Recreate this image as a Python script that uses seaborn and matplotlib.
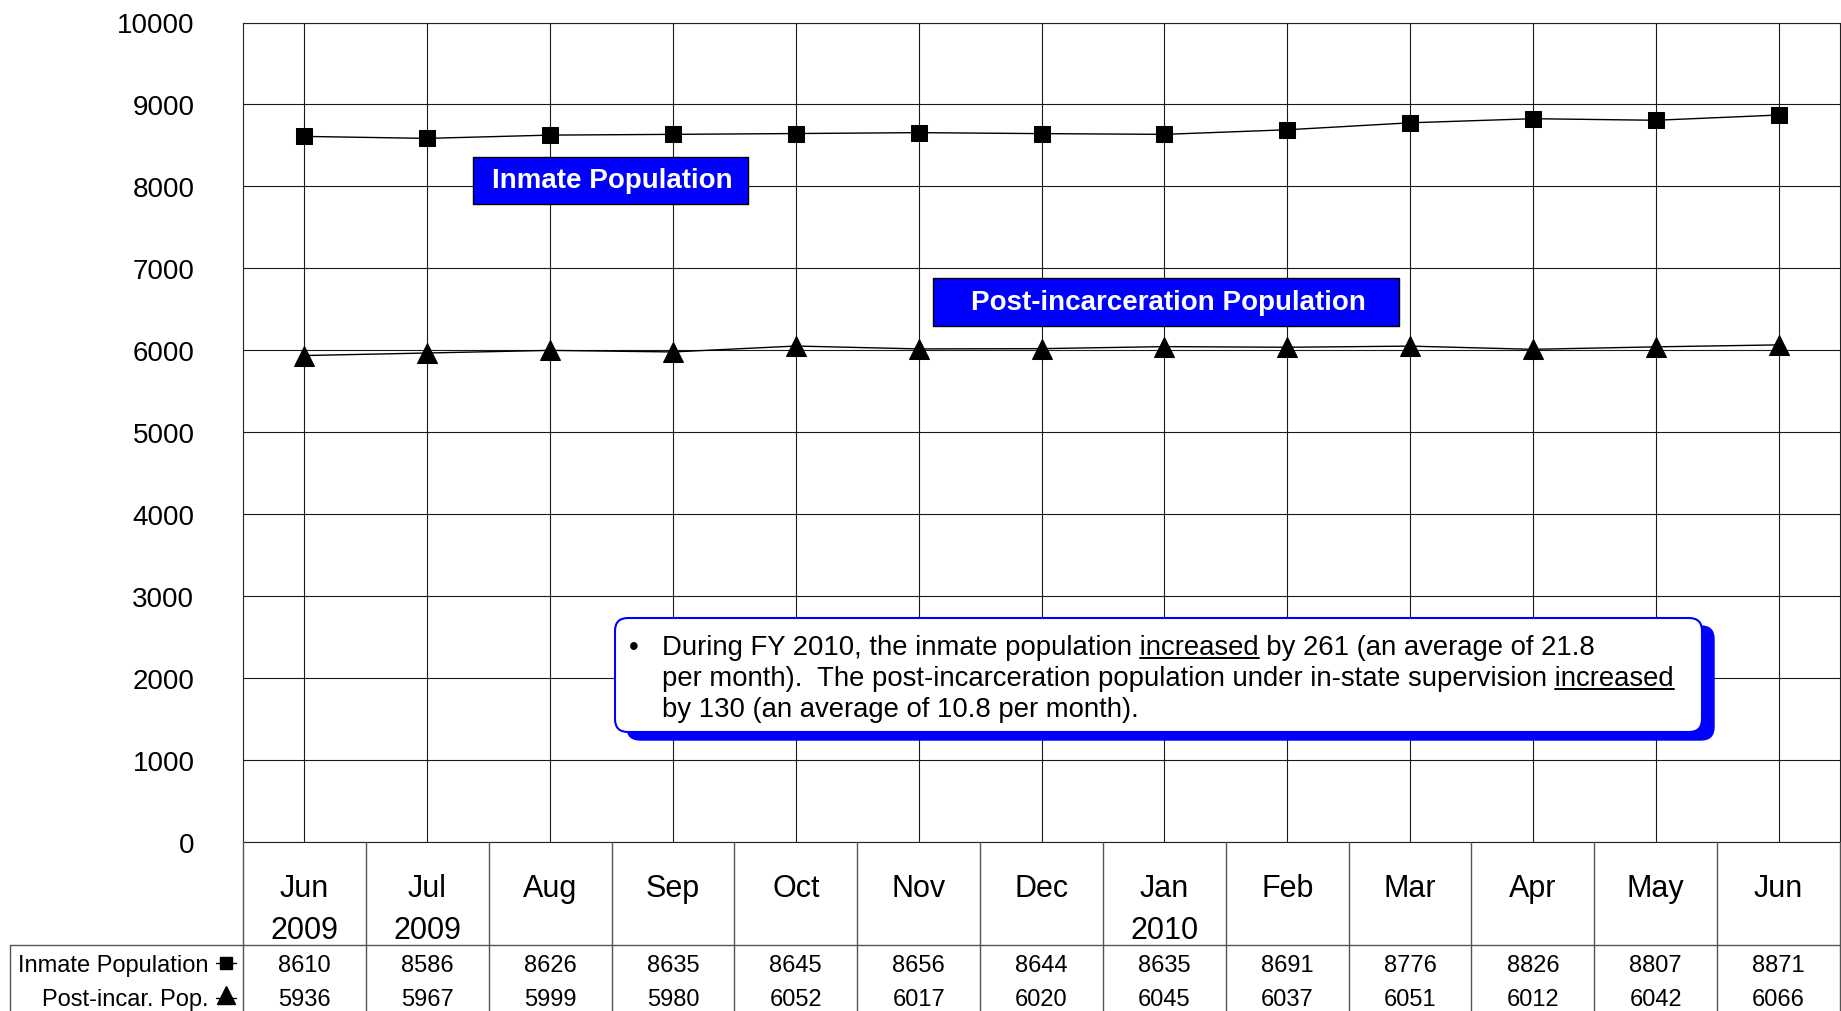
import numpy as np
import pandas as pd
import matplotlib
matplotlib.use("Agg")
import matplotlib.pyplot as plt
import seaborn as sns
from matplotlib.patches import FancyBboxPatch, Rectangle
from matplotlib.lines import Line2D
from matplotlib.transforms import blended_transform_factory

# data
months = ["Jun\n2009", "Jul\n2009", "Aug", "Sep", "Oct", "Nov", "Dec",
          "Jan\n2010", "Feb", "Mar", "Apr", "May", "Jun"]
inmate = [8610, 8586, 8626, 8635, 8645, 8656, 8644, 8635, 8691, 8776, 8826, 8807, 8871]
post = [5936, 5967, 5999, 5980, 6052, 6017, 6020, 6045, 6037, 6051, 6012, 6042, 6066]
yticks = list(range(0, 10001, 1000))
row_labels = ["Inmate Population", "Post-incar. Pop."]

sns.set_style("white")
plt.rcParams["font.family"] = ["Liberation Sans", "DejaVu Sans"]
plt.rcParams["text.color"] = "black"
plt.rcParams["ytick.labelcolor"] = "black"

W, H = 1841, 1012
fig = plt.figure(figsize=(W / 100, H / 100), dpi=100)


def fx(px):
    return px / W


def fy(py):
    return 1 - py / H


ax = fig.add_axes([fx(243), fy(843), fx(1840) - fx(243), fy(23.5) - fy(843)])

df = pd.DataFrame({"pos": np.arange(len(months)), "inmate": inmate, "post": post})
sns.lineplot(data=df, x="pos", y="inmate", ax=ax, color="black", lw=1,
             marker="s", markersize=11, markeredgecolor="black", zorder=3)
sns.lineplot(data=df, x="pos", y="post", ax=ax, color="black", lw=1,
             marker="^", markersize=15, markeredgecolor="black", zorder=3)

ax.set_xlim(-0.5, len(months) - 0.5)
ax.set_ylim(0, 10000)
ax.set_yticks(yticks)
ax.set_xticks(df["pos"])
ax.set_xticklabels([])
ax.set_xlabel("")
ax.set_ylabel("")
ax.grid(True, color="#1a1a1a", lw=0.8)
ax.set_axisbelow(True)
ax.tick_params(axis="y", length=17, width=0.8, color="#555555", pad=18,
               labelsize=20, labelcolor="black")
ax.tick_params(axis="x", length=0)
for sp in ax.spines.values():
    sp.set_visible(True)
    sp.set_color("#222222")
    sp.set_linewidth(0.8)

# data table under the axis
tr = blended_transform_factory(ax.transData, fig.transFigure)
tcol = "#555555"
for b in np.arange(len(months) + 1) - 0.5:
    fig.add_artist(Line2D([b, b], [fy(843), fy(1012)], transform=tr, color=tcol, lw=1))
fig.add_artist(Line2D([fx(10), fx(1840)], [fy(946), fy(946)], transform=fig.transFigure, color=tcol, lw=1))
fig.add_artist(Line2D([fx(10), fx(10)], [fy(946), fy(1012)], transform=fig.transFigure, color=tcol, lw=1))

for i, m in enumerate(months):
    fig.text(i, fy(874), m, transform=tr, ha="center", va="top", fontsize=22, linespacing=1.52)
    fig.text(i, fy(972), str(inmate[i]), transform=tr, ha="center", va="baseline", fontsize=17)
    fig.text(i, fy(1006), str(post[i]), transform=tr, ha="center", va="baseline", fontsize=17)

fig.text(fx(209), fy(972), row_labels[0], ha="right", va="baseline", fontsize=17)
fig.text(fx(209), fy(1006), row_labels[1], ha="right", va="baseline", fontsize=17)
fig.add_artist(Line2D([fx(216), fx(236)], [fy(964), fy(964)], transform=fig.transFigure,
                      color="black", lw=1))
fig.add_artist(Line2D([fx(226)], [fy(964)], transform=fig.transFigure, color="black",
                      marker="s", markersize=9, ls="none"))
fig.add_artist(Line2D([fx(216), fx(236)], [fy(999), fy(999)], transform=fig.transFigure,
                      color="black", lw=1))
fig.add_artist(Line2D([fx(226)], [fy(996)], transform=fig.transFigure, color="black",
                      marker="^", markersize=13, ls="none"))

# series name boxes
for (x0, y0, x1, y1), name in [((473, 158, 748, 205), "Inmate Population"),
                                ((933, 279, 1399, 327), "Post-incarceration Population")]:
    fig.add_artist(Rectangle((fx(x0), fy(y1)), fx(x1) - fx(x0), fy(y0) - fy(y1),
                             transform=fig.transFigure, facecolor="#0000ff",
                             edgecolor="black", lw=1, zorder=4))
    fig.text(fx((x0 + x1) / 2 + 2), fy((y0 + y1) / 2), name, color="white",
             fontweight="bold", fontsize=20, ha="center", va="center", zorder=5)

# note box with shadow
bx0, by0, bx1, by1 = 615, 619, 1702, 733
shadow = FancyBboxPatch((bx0 + 12, H - by1 - 8), bx1 - bx0, by1 - by0,
                        boxstyle="round,pad=0,rounding_size=13", transform=None,
                        facecolor="#0000ff", edgecolor="#0000ff", lw=1, zorder=4)
box = FancyBboxPatch((bx0, H - by1), bx1 - bx0, by1 - by0,
                     boxstyle="round,pad=0,rounding_size=13", transform=None,
                     facecolor="white", edgecolor="#0000ff", lw=1.5, zorder=5)
fig.add_artist(shadow)
fig.add_artist(box)

fs = 19.8
renderer = fig.canvas.get_renderer()


def text_width(s):
    t = fig.text(0, 0, s, fontsize=fs)
    w = t.get_window_extent(renderer).width
    t.remove()
    return w


lines = [
    ("During FY 2010, the inmate population increased by 261 (an average of 21.8",
     "During FY 2010, the inmate population increased", 655),
    ("per month).  The post-incarceration population under in-state supervision increased",
     "per month).  The post-incarceration population under in-state supervision increased", 686),
    ("by 130 (an average of 10.8 per month).", None, 717),
]
tx = 662
fig.text(fx(629), fy(655), "\u2022", fontsize=fs, va="baseline", ha="left", zorder=6)
for s, upto, base in lines:
    fig.text(fx(tx), fy(base), s, fontsize=fs, va="baseline", ha="left", zorder=6)
    if upto is not None:
        end = tx + text_width(upto)
        start = end - text_width("increased")
        fig.add_artist(Line2D([fx(start), fx(end)], [fy(base + 4), fy(base + 4)],
                              transform=fig.transFigure, color="black", lw=1.4, zorder=6))

fig.savefig("out.png", dpi=100)
